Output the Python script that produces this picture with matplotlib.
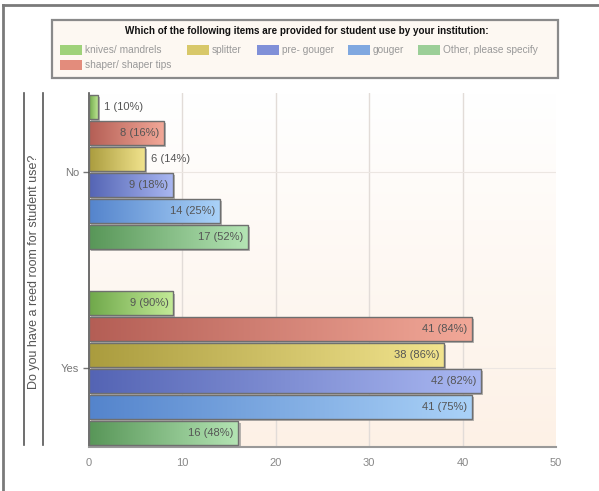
import numpy as np
import matplotlib.pyplot as plt
from matplotlib.colors import LinearSegmentedColormap
from matplotlib.patches import Rectangle
from matplotlib.lines import Line2D
import matplotlib.patheffects as pe

plt.rcParams['font.family'] = ['Liberation Sans', 'DejaVu Sans']

categories = ["Yes", "No"]
items = ["knives/ mandrels", "shaper/ shaper tips", "splitter",
         "pre- gouger", "gouger", "Other, please specify"]
# counts per item, order: Yes, No
counts = {
    "knives/ mandrels": [9, 1],
    "shaper/ shaper tips": [41, 8],
    "splitter": [38, 6],
    "pre- gouger": [42, 9],
    "gouger": [41, 14],
    "Other, please specify": [16, 17],
}
xticks = [0, 10, 20, 30, 40, 50]

# left (dark) and right (light) end of each bar gradient
grad = {
    "knives/ mandrels": ("#6fa84a", "#c4eb98"),
    "shaper/ shaper tips": ("#b45e55", "#f2a898"),
    "splitter": ("#aa9c3e", "#f2e48e"),
    "pre- gouger": ("#5464b4", "#aab8f2"),
    "gouger": ("#5484cc", "#aad2f8"),
    "Other, please specify": ("#589658", "#b4e4b4"),
}
legend_col = {
    "knives/ mandrels": "#9fd27a",
    "shaper/ shaper tips": "#e38c7c",
    "splitter": "#d8c86a",
    "pre- gouger": "#8090d8",
    "gouger": "#80a8e0",
    "Other, please specify": "#9ccf98",
}

fig = plt.figure(figsize=(5.99, 4.91), dpi=100)
W, H = 599, 491

def fx(px):
    return px / W

def fy(py):
    return 1 - py / H

# outer frame (top and left)
fig.add_artist(Line2D([fx(3), fx(599)], [fy(5), fy(5)], color="#7a7a7a", lw=2))
fig.add_artist(Line2D([fx(3), fx(3)], [fy(5), fy(491)], color="#7a7a7a", lw=2))

# legend box
fig.add_artist(Rectangle((fx(52), fy(78)), fx(558) - fx(52), fy(20) - fy(78),
                         facecolor="#fdf8f2", edgecolor="#8a8a8a", lw=1.6))
fig.text(fx(307), fy(31), "Which of the following items are provided for student use by your institution:",
         ha="center", va="center", fontsize=7.1, fontweight="bold", color="#111111")
leg_pos = {
    "knives/ mandrels": (60, 50),
    "splitter": (187, 50),
    "pre- gouger": (257, 50),
    "gouger": (348, 50),
    "Other, please specify": (418, 50),
    "shaper/ shaper tips": (60, 65),
}
for name, (px, py) in leg_pos.items():
    fig.add_artist(Rectangle((fx(px), fy(py + 5)), fx(22), fy(0) - fy(10),
                             facecolor=legend_col[name], edgecolor="none"))
    fig.text(fx(px + 25), fy(py), name, ha="left", va="center", fontsize=7.3, color="#999999")

# y axis title with rules on either side
fig.add_artist(Line2D([fx(24), fx(24)], [fy(93), fy(445)], color="#555555", lw=1.2))
fig.add_artist(Line2D([fx(43), fx(43)], [fy(93), fy(445)], color="#555555", lw=1.2))
fig.text(fx(34), fy(272), "Do you have a reed room for student use?", rotation=90,
         ha="center", va="center", fontsize=9, color="#555555")

ax = fig.add_axes([fx(89), fy(447), fx(556) - fx(89), fy(93) - fy(447)])
ax.set_xlim(0, 50)
ax.set_ylim(-0.4, 1.4)

# background: white at top fading to cream
bg = LinearSegmentedColormap.from_list("bg", ["#fdf1e6", "#ffffff"])
ax.imshow(np.linspace(0, 1, 256).reshape(-1, 1), cmap=bg, origin="lower",
          extent=[0, 1, 0, 1], transform=ax.transAxes, aspect="auto", zorder=0)

for x in xticks[1:-1]:
    ax.axvline(x, color="#e2dcd8", lw=1, zorder=1)
for y in range(len(categories)):
    ax.axhline(y, color="#ece6e2", lw=0.8, zorder=1)

step = 0.132
h = 0.122
gx = np.linspace(0, 1, 256).reshape(1, -1)
for i, name in enumerate(items):
    cmap = LinearSegmentedColormap.from_list(name, list(grad[name]))
    for j, cat in enumerate(categories):
        v = counts[name][j]
        yc = j + (2.5 - i) * step
        base = ax.barh(yc, v, height=h, color=grad[name][1], edgecolor="none", zorder=2)
        base[0].set_path_effects([pe.SimplePatchShadow(offset=(1.5, -1.5), shadow_rgbFace="#888888", alpha=0.6),
                                  pe.Normal()])
        ax.imshow(gx, cmap=cmap, extent=[0, v, yc - h / 2, yc + h / 2],
                  aspect="auto", zorder=3, interpolation="bilinear")
        ax.barh(yc, v, height=h, color="none", edgecolor="#6f6f6f", lw=1.0, zorder=4)
        total = sum(counts[name])
        label = f"{v} ({round(100 * v / total)}%)"
        if v >= 8:
            ax.text(v - 0.5, yc, label, ha="right", va="center", fontsize=8, color="#555555", zorder=5)
        else:
            ax.text(v + 0.6, yc, label, ha="left", va="center", fontsize=8, color="#555555", zorder=5)

ax.set_xlim(0, 50)
ax.set_ylim(-0.4, 1.4)
ax.set_xticks(xticks)
ax.set_xticklabels([str(t) for t in xticks])
ax.set_yticks(range(len(categories)))
ax.set_yticklabels(categories)
ax.tick_params(axis="x", length=0, pad=8, labelsize=8, colors="#888888")
ax.tick_params(axis="y", length=4, width=1, pad=3, labelsize=8, colors="#777777")
for s in ["top", "right"]:
    ax.spines[s].set_visible(False)
ax.spines["left"].set_color("#555555")
ax.spines["left"].set_linewidth(1.2)
ax.spines["bottom"].set_color("#999999")
ax.spines["bottom"].set_linewidth(1.5)

fig.savefig("out.png", dpi=100)
